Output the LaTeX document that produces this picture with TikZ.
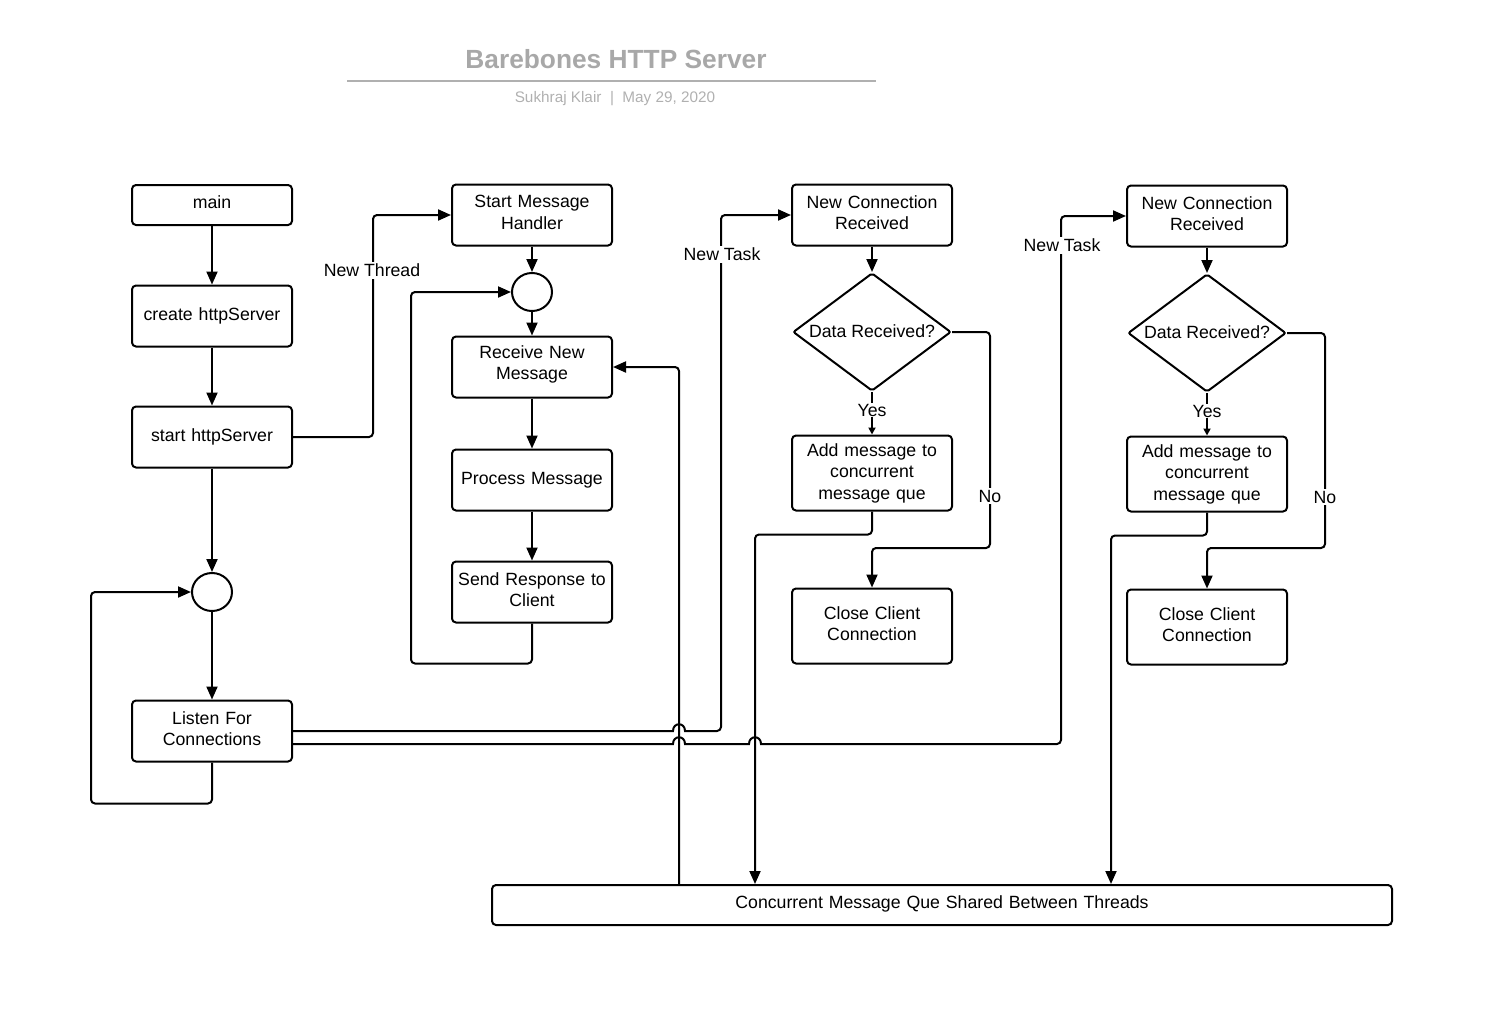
\documentclass[tikz,border=0pt]{standalone}
\usepackage{fontspec}
\setmainfont{Liberation Sans}
\usetikzlibrary{arrows.meta,shapes.geometric,calc}
\definecolor{titlegray}{HTML}{A8A8A8}
\definecolor{subgray}{HTML}{B0B0B0}
\newcommand{\mytailsp}{5pt}
\begin{document}
\begin{tikzpicture}[x=1pt,y=-1pt,
  tail/.code={\renewcommand{\mytailsp}{#1}},
  box/.style={draw,line width=2pt,rounded corners=4pt,minimum width=160pt,minimum height=61pt,inner sep=0pt,align=center,text width=158pt,font=\fontsize{17.7}{21.5}\selectfont,tail=5pt,execute at end node={\endgraf\vspace{\mytailsp}}},
  junc/.style={draw,line width=2pt,ellipse,minimum width=40pt,minimum height=38pt,inner sep=0pt},
  decide/.style={draw,line width=2pt,diamond,rounded corners=2pt,minimum width=158pt,minimum height=118pt,inner sep=0pt},
  conn/.style={line width=2pt,rounded corners=4pt,-{Triangle[length=13pt,width=11pt]}},
  small/.style={line width=2pt,-{Triangle[length=7pt,width=7pt]}},
  lbl/.style={fill=white,inner sep=2pt,font=\fontsize{17.7}{21.5}\selectfont}]
\useasboundingbox (0,0) rectangle (1492,1012);
% title
\node[font=\fontsize{26.3}{30}\selectfont\bfseries,text=titlegray] (title) at (616,59) {Barebones HTTP Server};
\draw[subgray,line width=2pt] (347,81) -- (876,81);
\node[font=\fontsize{15.3}{18}\selectfont,text=subgray] (sub) at (615,99) {Sukhraj Klair\ \ |\ \ May 29, 2020};
% column 1
\node[box,minimum height=40pt] (main) at (212,205) {main};
\node[box,tail=0pt] (create) at (212,316) {create httpServer};
\node[box,tail=0pt] (start) at (212,437) {start httpServer};
\node[junc] (c1) at (212,592) {};
\node[box] (listen) at (212,731) {Listen For\\Connections};
% column 2
\node[box] (smh) at (532,215) {Start Message\\Handler};
\node[junc] (c2) at (532,292) {};
\node[box] (recv) at (532,367) {Receive New\\Message};
\node[box,tail=0pt] (proc) at (532,480) {Process Message};
\node[box] (send) at (532,592) {Send Response to\\Client};
% column 3
\node[box] (ncr1) at (872,215) {New Connection\\Received};
\node[decide,label={[yshift=1pt]center:\fontsize{17.7}{21.5}\selectfont Data Received?}] (d1) at (872,332) {};
\node[box,minimum height=75pt,tail=0pt] (add1) at (872,473) {Add message to\\concurrent\\message que};
\node[box,minimum height=75pt] (close1) at (872,626) {Close Client\\Connection};
% column 4
\node[box] (ncr2) at (1207,216) {New Connection\\Received};
\node[decide,label={[yshift=1pt]center:\fontsize{17.7}{21.5}\selectfont Data Received?}] (d2) at (1207,333) {};
\node[box,minimum height=75pt,tail=0pt] (add2) at (1207,474) {Add message to\\concurrent\\message que};
\node[box,minimum height=75pt] (close2) at (1207,627) {Close Client\\Connection};
% queue
\node[box,minimum width=900pt,minimum height=40pt,text width=890pt,tail=2pt] (queue) at (942,905) {Concurrent Message Que Shared Between Threads};
% connectors column 1
\draw[conn] (main) -- (create);
\draw[conn] (create) -- (start);
\draw[conn] (start) -- (c1);
\draw[conn] (c1) -- (listen);
\draw[conn] (listen.south) -- ++(0,41) -| ([xshift=-100pt]c1.west) -- (c1.west);
\draw[conn] (start.east) -- ++(80,0) |- (smh.west);
\node[lbl] (lthread) at (372,270) {New Thread};
% column 2
\draw[conn] (smh) -- (c2);
\draw[conn] (c2) -- (recv);
\draw[conn] (recv) -- (proc);
\draw[conn] (proc) -- (send);
\draw[conn] (send.south) -- ++(0,40) -| ([xshift=-100pt]c2.west) -- (c2.west);
\draw[conn] ([xshift=-263pt]queue.north) |- (recv.east);
% listen to new connections with hops
\draw[conn,sharp corners] (listen.east) -- (673,731) .. controls (673,722) and (685,722) .. (685,731)
  [rounded corners=4pt] -- (721,731) |- (ncr1.west);
\draw[conn,sharp corners] ([yshift=-13pt]listen.east) -- (673,744) .. controls (673,735) and (685,735) .. (685,744)
  -- (749,744) .. controls (749,735) and (761,735) .. (761,744)
  [rounded corners=4pt] -- (1061,744) |- (ncr2.west);
\node[lbl] (ltask1) at (722,254) {New Task};
\node[lbl] (ltask2) at (1062,245) {New Task};
% column 3
\draw[conn] (ncr1) -- (d1);
\draw[small] (d1.south) -- (add1.north);
\node[lbl,inner sep=1pt] (yes1) at (872,410) {Yes};
\draw[conn] (d1.east) -| (990,548) -| (close1.north);
\node[lbl] (no1) at (990,496) {No};
\draw[conn] (add1.south) -- ++(0,23) -| ([xshift=-187pt]queue.north);
% column 4
\draw[conn] (ncr2) -- (d2);
\draw[small] (d2.south) -- (add2.north);
\node[lbl,inner sep=1pt] (yes2) at (1207,411) {Yes};
\draw[conn] (d2.east) -| (1325,548) -| (close2.north);
\node[lbl] (no2) at (1325,497) {No};
\draw[conn] (add2.south) -- ++(0,23) -| ([xshift=169pt]queue.north);
\end{tikzpicture}
\end{document}
